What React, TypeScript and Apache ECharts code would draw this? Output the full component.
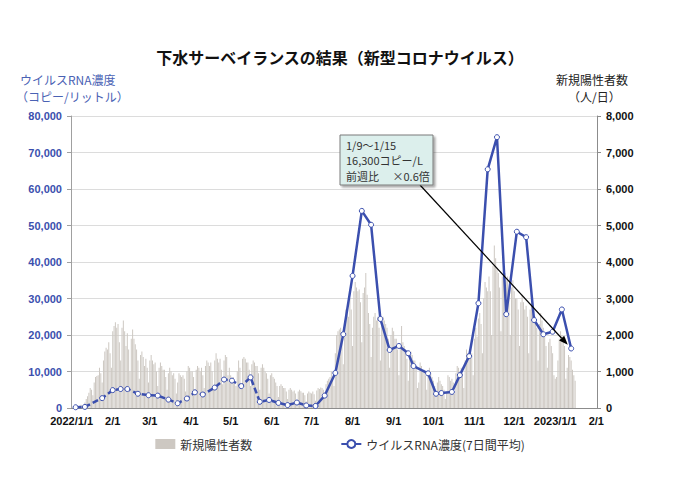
import React, { useEffect, useRef } from 'react';
import * as echarts from 'echarts';

// ---- data ----
const title = '下水サーベイランスの結果（新型コロナウイルス）';
const leftAxisName = ['ウイルスRNA濃度', '（コピー/リットル）'];
const rightAxisName = ['新規陽性者数', '（人/日）'];
const barName = '新規陽性者数';
const lineName = 'ウイルスRNA濃度(7日間平均)';
const noteLines = ['1/9～1/15', '16,300コピー/L', '前週比　 ×0.6倍'];

const axisStart = [2022, 1, 1];
const axisEnd = [2023, 2, 1];

// weekly virus RNA concentration (copies / L)
const lineDates = [
  '2022-01-04', '2022-01-11', '2022-01-24', '2022-02-01', '2022-02-07', '2022-02-12', '2022-02-20',
  '2022-02-28', '2022-03-07', '2022-03-15', '2022-03-22', '2022-03-29', '2022-04-04', '2022-04-10',
  '2022-04-19', '2022-04-26', '2022-05-02', '2022-05-09', '2022-05-16', '2022-05-23', '2022-05-30',
  '2022-06-06', '2022-06-13', '2022-06-20', '2022-06-27', '2022-07-04', '2022-07-11', '2022-07-19',
  '2022-07-25', '2022-08-01', '2022-08-08', '2022-08-15', '2022-08-22', '2022-08-29', '2022-09-05',
  '2022-09-12', '2022-09-16', '2022-09-27', '2022-10-03', '2022-10-07', '2022-10-15', '2022-10-21',
  '2022-10-28', '2022-11-04', '2022-11-11', '2022-11-18', '2022-11-25', '2022-12-03', '2022-12-10',
  '2022-12-16', '2022-12-23', '2022-12-30', '2023-01-06', '2023-01-13',
];
const lineValues = [
  200, 300, 2700, 4900, 5200, 5200, 3900,
  3500, 3400, 2300, 1300, 2600, 4300, 3700,
  5600, 7800, 7500, 6000, 8400, 1700, 2200,
  1400, 800, 1500, 700, 550, 3400, 9600,
  20200, 36200, 54000, 50200, 24400, 15900, 17000,
  15000, 11500, 9500, 3900, 4100, 4400, 9000,
  14200, 28700, 65400, 74200, 25700, 48300, 46800,
  24100, 20200, 20900, 27000, 16300,
];
const dashedLastIndex = 25;

// daily new positive cases (persons / day), from 2022-01-01
const barValues = [
  10, 15, 10, 25, 40, 50, 60,
  90, 80, 60, 150, 250, 320, 420,
  550, 500, 350, 700, 850, 880, 900,
  1100, 950, 700, 1300, 1550, 1650, 1600,
  1800, 1500, 1100, 2100, 2250, 2350, 2200,
  2300, 1800, 1300, 2200, 2400, 2100, 1700,
  2050, 1600, 1000, 1900, 2150, 1900, 1750,
  1600, 1300, 800, 1450, 1550, 1400, 1150,
  1350, 1100, 700, 1300, 1450, 1300, 1200,
  1250, 1000, 600, 1100, 1250, 1150, 1050,
  1050, 850, 500, 950, 1100, 1000, 900,
  950, 800, 400, 700, 950, 900, 850,
  900, 800, 450, 1000, 1150, 1100, 1000,
  1000, 850, 500, 1050, 1150, 1100, 1000,
  1100, 900, 550, 1150, 1300, 1250, 1150,
  1250, 1000, 600, 1300, 1500, 1350, 1250,
  1350, 1050, 650, 1300, 1450, 1400, 900,
  1100, 900, 800, 850, 700, 600, 1000,
  1300, 1100, 650, 1350, 1400, 1350, 1250,
  1250, 1050, 600, 1200, 1300, 1250, 1150,
  1150, 950, 500, 1100, 1200, 1100, 1000,
  950, 800, 400, 900, 950, 850, 800,
  700, 600, 300, 600, 650, 600, 550,
  550, 450, 250, 500, 550, 500, 450,
  480, 400, 220, 450, 500, 460, 420,
  420, 350, 180, 400, 450, 420, 400,
  450, 380, 200, 480, 550, 520, 560,
  550, 500, 300, 650, 750, 800, 850,
  1000, 850, 600, 1500, 2000, 2100, 2150,
  2200, 1900, 1200, 2400, 2700, 2600, 2500,
  3000, 2700, 1700, 3200, 3450, 3300, 3200,
  3250, 2900, 1800, 3150, 3300, 3700, 3100,
  2600, 2300, 1400, 2200, 2500, 2600, 2400,
  2500, 2200, 1300, 2300, 2500, 2400, 2300,
  2200, 1900, 1100, 2000, 2200, 2100, 1900,
  1900, 1600, 900, 1700, 2250, 1800, 1700,
  1600, 1350, 750, 1400, 1550, 1450, 1300,
  1300, 1100, 550, 700, 1250, 1150, 1000,
  1050, 900, 500, 1000, 1100, 950, 850,
  750, 600, 350, 700, 850, 750, 650,
  600, 500, 250, 450, 900, 850, 750,
  800, 700, 400, 950, 1150, 1100, 1000,
  1100, 950, 550, 1300, 1600, 1500, 1450,
  1700, 1500, 900, 1900, 2200, 1950, 2450,
  2600, 2300, 1500, 3000, 3450, 3300, 3200,
  3600, 3200, 2000, 3900, 4450, 4100, 3800,
  3700, 3300, 2100, 3600, 3800, 3700, 3500,
  3600, 3200, 2000, 3300, 3500, 3200, 3000,
  3000, 2700, 1700, 2900, 3100, 2900, 2700,
  2800, 2500, 1500, 2700, 2900, 2700, 2500,
  2500, 2200, 1300, 2300, 2600, 2400, 2200,
  2000, 1700, 1100, 1800, 1900, 1700, 1500,
  900, 800, 850, 1300, 1900, 2100, 2000,
  1900, 1700, 800, 1100, 1450, 1400, 1300,
  1050, 900, 750,
];

const leftMax = 80000;
const leftInterval = 10000;
const rightMax = 8000;
const rightInterval = 1000;

// ---- helpers ----
function ymd(t: number) {
  const d = new Date(t);
  return `${d.getUTCFullYear()}-${String(d.getUTCMonth() + 1).padStart(2, '0')}-${String(d.getUTCDate()).padStart(2, '0')}`;
}
function buildDays() {
  const out: string[] = [];
  const s = Date.UTC(axisStart[0], axisStart[1] - 1, axisStart[2]);
  const e = Date.UTC(axisEnd[0], axisEnd[1] - 1, axisEnd[2]);
  for (let t = s; t <= e; t += 86400000) out.push(ymd(t));
  return out;
}

const BLUE = '#3b4fae';
const NUM_FONT = '"Liberation Sans", Arial, sans-serif';
const JP_FONT = '"Noto Sans CJK JP", "Noto Sans", sans-serif';

export default function App() {
  const ref = useRef<HTMLDivElement>(null);
  useEffect(() => {
    if (!ref.current) return;
    const chart = echarts.init(ref.current, null, { renderer: 'svg' });
    const days = buildDays();
    const idx: Record<string, number> = {};
    days.forEach((d, i) => (idx[d] = i));
    const bars = days.map((_, i) => (i < barValues.length ? barValues[i] : null));
    const dashed: (number | null)[] = days.map(() => null);
    const solid: (number | null)[] = days.map(() => null);
    lineDates.forEach((d, i) => {
      if (i <= dashedLastIndex) dashed[idx[d]] = lineValues[i];
      if (i >= dashedLastIndex) solid[idx[d]] = lineValues[i];
    });
    const isMonthStart = (_i: number, v: string) => v.endsWith('-01');

    const symbolStyle = { color: '#ffffff', borderColor: BLUE, borderWidth: 1 };

    chart.setOption({
      animation: false,
      backgroundColor: '#ffffff',
      textStyle: { fontFamily: JP_FONT },
      title: {
        text: title,
        left: 'center',
        top: 44,
        textStyle: { fontSize: 16, fontWeight: 'bold', color: '#111', fontFamily: JP_FONT },
      },
      grid: { left: 71, right: 83, top: 116, bottom: 73 },
      legend: {
        bottom: 26,
        left: 'center',
        itemGap: 88,
        itemWidth: 20,
        itemHeight: 10,
        textStyle: { fontSize: 12, color: '#333', fontFamily: JP_FONT },
        data: [{ name: barName, icon: 'rect' }, { name: lineName }],
      },
      xAxis: {
        type: 'category',
        data: days,
        boundaryGap: true,
        axisLine: { lineStyle: { color: '#8c8c8c' } },
        axisTick: { interval: isMonthStart, alignWithLabel: true, length: 4, lineStyle: { color: '#8c8c8c' } },
        axisLabel: {
          interval: isMonthStart,
          color: '#111',
          fontWeight: 'bold',
          fontSize: 11,
          fontFamily: NUM_FONT,
          margin: 7,
          formatter: (v: string) => {
            const [y, m] = v.split('-');
            return m === '01' ? `${y}/1/1` : `${+m}/1`;
          },
        },
      },
      yAxis: [
        {
          type: 'value',
          min: 0,
          max: leftMax,
          interval: leftInterval,
          axisLine: { show: true, lineStyle: { color: '#a0a0a0' } },
          axisTick: { show: true, length: 4, lineStyle: { color: '#a0a0a0' } },
          splitLine: { lineStyle: { color: '#dcdcdc' } },
          axisLabel: {
            color: BLUE,
            fontWeight: 'bold',
            fontSize: 11,
            fontFamily: NUM_FONT,
            margin: 9,
            formatter: (v: number) => v.toLocaleString('en-US'),
          },
        },
        {
          type: 'value',
          min: 0,
          max: rightMax,
          interval: rightInterval,
          position: 'right',
          axisLine: { show: true, lineStyle: { color: '#8c8c8c' } },
          axisTick: { show: true, length: 4, lineStyle: { color: '#8c8c8c' } },
          splitLine: { show: false },
          axisLabel: {
            color: '#111',
            fontWeight: 'bold',
            fontSize: 11,
            fontFamily: NUM_FONT,
            margin: 9,
            formatter: (v: number) => v.toLocaleString('en-US'),
          },
        },
      ],
      series: [
        {
          name: barName,
          type: 'bar',
          yAxisIndex: 1,
          data: bars,
          barWidth: '72%',
          itemStyle: { color: '#cdc8c2' },
          z: 1,
        },
        {
          name: 'dashedPart',
          type: 'line',
          data: dashed,
          connectNulls: true,
          symbol: 'circle',
          symbolSize: 5,
          showAllSymbol: true,
          lineStyle: { color: BLUE, width: 2.5, type: [6, 3] },
          itemStyle: symbolStyle,
          z: 3,
        },
        {
          name: lineName,
          type: 'line',
          data: solid,
          connectNulls: true,
          symbol: 'circle',
          symbolSize: 5,
          showAllSymbol: true,
          lineStyle: { color: BLUE, width: 2.5 },
          itemStyle: symbolStyle,
          z: 4,
        },
      ],
    });

    // annotation arrow towards the latest point
    const lastDate = lineDates[lineDates.length - 1];
    const lastVal = lineValues[lineValues.length - 1];
    const p = chart.convertToPixel({ xAxisIndex: 0, yAxisIndex: 0 }, [lastDate, lastVal]) as number[];
    const sx = 420, sy = 185;
    const dx = p[0] - sx, dy = p[1] - sy;
    const len = Math.sqrt(dx * dx + dy * dy);
    const ux = dx / len, uy = dy / len;
    const tipX = p[0] - ux * 5, tipY = p[1] - uy * 5;
    const hl = 9, hw = 3.5;
    const bx = tipX - ux * hl, by = tipY - uy * hl;
    const nx = -uy, ny = ux;

    chart.setOption({
      graphic: [
        { type: 'text', left: 20, top: 73, style: { text: leftAxisName[0], fill: '#4a62b4', fontSize: 12, fontFamily: JP_FONT } },
        { type: 'text', left: 16, top: 90, style: { text: leftAxisName[1], fill: '#4a62b4', fontSize: 12, fontFamily: JP_FONT } },
        { type: 'text', left: 556, top: 73, style: { text: rightAxisName[0], fill: '#222', fontSize: 12, fontFamily: JP_FONT } },
        { type: 'text', left: 568, top: 90, style: { text: rightAxisName[1], fill: '#222', fontSize: 12, fontFamily: JP_FONT } },
        {
          type: 'line',
          z: 20,
          shape: { x1: sx, y1: sy, x2: bx, y2: by },
          style: { stroke: '#000', lineWidth: 1.2 },
        },
        {
          type: 'polygon',
          z: 20,
          shape: { points: [[tipX, tipY], [bx + nx * hw, by + ny * hw], [bx - nx * hw, by - ny * hw]] },
          style: { fill: '#000' },
        },
        {
          type: 'rect',
          z: 21,
          shape: { x: 340, y: 135, width: 93, height: 50 },
          style: {
            fill: '#dcefec',
            stroke: '#7a7a7a',
            lineWidth: 1,
            shadowBlur: 2,
            shadowOffsetX: 2,
            shadowOffsetY: 2,
            shadowColor: 'rgba(0,0,0,0.35)',
          },
        },
        {
          type: 'text',
          z: 22,
          left: 346,
          top: 137,
          style: { text: noteLines.join('\n'), fill: '#333', fontSize: 11, lineHeight: 15.5, fontFamily: JP_FONT },
        },
      ],
    });

    return () => chart.dispose();
  }, []);
  return (
    <div
      ref={ref}
      style={{ position: 'fixed', left: 0, top: 0, width: 680, height: 481, background: '#fff' }}
    />
  );
}
